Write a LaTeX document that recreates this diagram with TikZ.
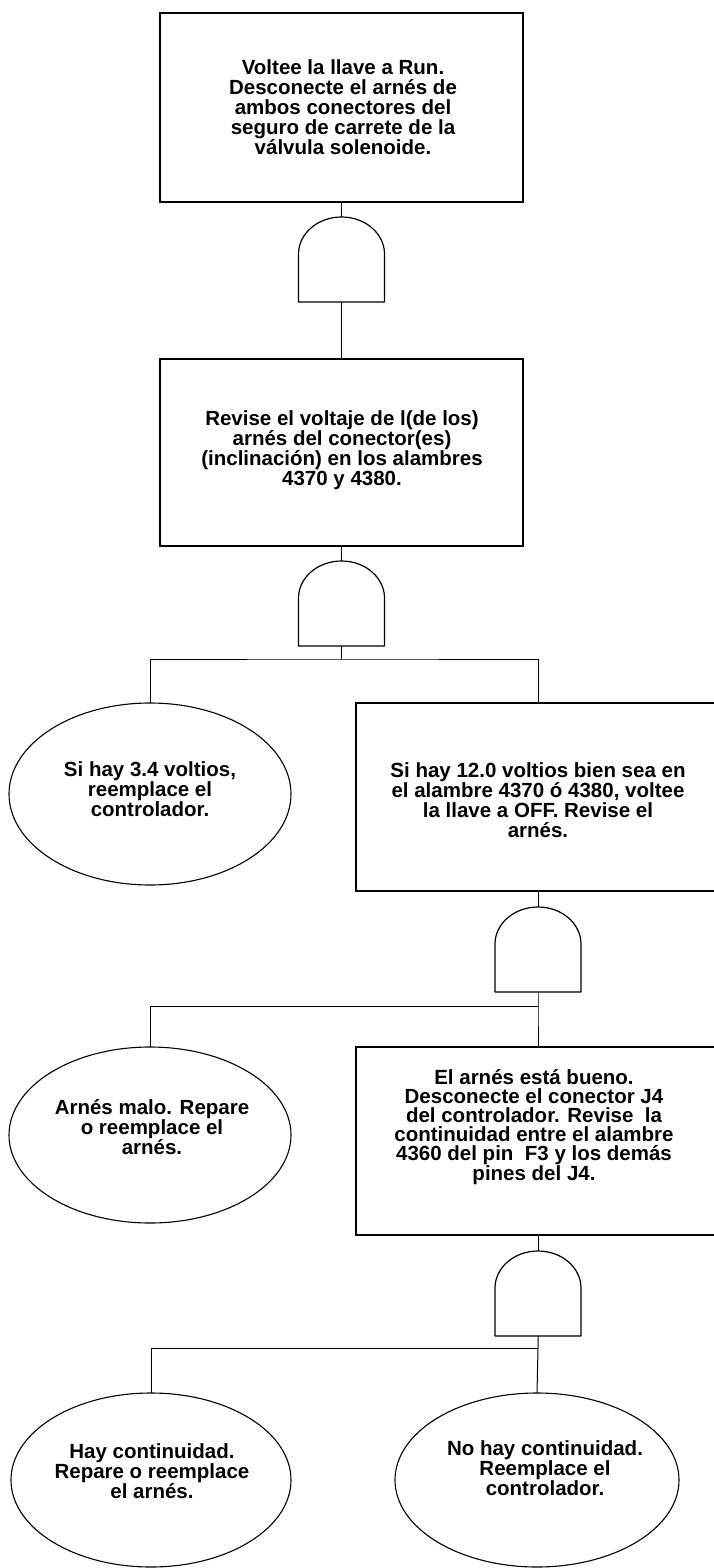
\documentclass[tikz,border=0pt]{standalone}
\usepackage{fontspec}
\setmainfont{Liberation Sans}
\usetikzlibrary{shapes.geometric}
\newcommand\drawgate[1]{\draw[gateline] (#1.south west) -- ++(0,48) arc[start angle=180,end angle=0,x radius=43,y radius=37] -- (#1.south east) -- cycle;}
\tikzset{
  boxshape/.style={draw, line width=1.4pt, minimum width=#1, inner sep=0pt, outer sep=0pt},
  ellshape/.style={draw, ellipse, line width=1.1pt, inner sep=0pt, outer sep=0pt},
  gatebox/.style={minimum width=86pt, minimum height=85pt, inner sep=0pt, outer sep=0pt},
  gateline/.style={line width=1.2pt, line join=round},
  conn/.style={line width=1pt},
  txt/.style={font=\bfseries\fontsize{20.5}{20}\selectfont, align=center, inner sep=0pt},
}
\begin{document}
\begin{tikzpicture}[x=1pt,y=1pt]
\fill[white] (0,0) rectangle (713,-1568);
\useasboundingbox (0,0) rectangle (713,-1568);

% shapes
\node[boxshape=363pt, minimum height=189pt] (box1) at (341.5,-107.5) {};
\node[gatebox] (g1) at (341.5,-259.5) {};
\node[boxshape=363pt, minimum height=187pt] (box2) at (341.5,-452.5) {};
\node[gatebox] (g2) at (341.5,-603.5) {};
\node[ellshape, minimum width=282pt, minimum height=182pt] (ell1) at (150,-794) {};
\node[boxshape=364pt, minimum height=188pt] (box3) at (538,-797) {};
\node[gatebox] (g3) at (538,-949.5) {};
\node[ellshape, minimum width=282pt, minimum height=176pt] (ell2) at (150,-1135) {};
\node[boxshape=364pt, minimum height=188pt] (box4) at (538,-1141) {};
\node[gatebox] (g4) at (538,-1293.5) {};
\node[ellshape, minimum width=280pt, minimum height=174pt] (ell3) at (151,-1480) {};
\node[ellshape, minimum width=284pt, minimum height=174pt] (ell4) at (537,-1480) {};

\drawgate{g1}
\drawgate{g2}
\drawgate{g3}
\drawgate{g4}

% junctions
\coordinate (j1) at (341.5,-659);
\coordinate (j2) at (538,-1006);
\coordinate (j3) at (538,-1348);

% connectors
\draw[conn] (box1.south) -- (g1.north);
\draw[conn] (g1.south) -- (box2.north);
\draw[conn] (box2.south) -- (g2.north);
\draw[conn] (g2.south) -- (j1);
\draw[conn] (ell1.north) |- (j1) -| (box3.north);
\draw[conn] (box3.south) -- (g3.north);
\draw[conn] (g3.south) -- (j2) -- (box4.north);
\draw[conn] (ell2.north) |- (j2);
\draw[conn] (box4.south) -- (g4.north);
\draw[conn] (g4.south) -- (j3) -- (ell4.north);
\draw[conn] (ell3.north) |- (j3);

% texts
\node[txt] (t1) at (343,-107.5) {Voltee la llave a Run.\\Desconecte el arnés de\\ambos conectores del\\seguro de carrete de la\\válvula solenoide.};
\node[txt] (t2) at (342,-450) {Revise el voltaje de l(de los)\\arnés del conector(es)\\(inclinación) en los alambres\\4370 y 4380.};
\node[txt] (t3) at (150,-789) {Si hay 3.4 voltios,\\reemplace el\\controlador.};
\node[txt] (t4) at (538,-800) {Si hay 12.0 voltios bien sea en\\el alambre 4370 ó 4380, voltee\\la llave a OFF. Revise el\\arnés.};
\node[txt] (t5) at (152,-1127) {Arnés malo. Repare\\o reemplace el\\arnés.};
\node[txt, font=\bfseries\fontsize{20.5}{19}\selectfont] (t6) at (534,-1127) {El arnés está bueno.\\Desconecte el conector J4\\del controlador. Revise~ la\\continuidad entre el alambre\\4360 del pin~ F3 y los demás\\pines del J4.};
\node[txt] (t7) at (152,-1471) {Hay continuidad.\\Repare o reemplace\\el arnés.};
\node[txt] (t8) at (545,-1468) {No hay continuidad.\\Reemplace el\\controlador.};
\end{tikzpicture}
\end{document}
